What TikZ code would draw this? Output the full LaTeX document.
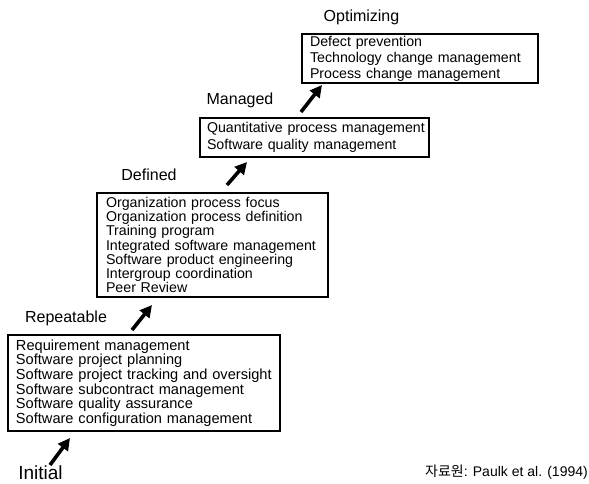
\documentclass[tikz,border=0pt]{standalone}
\usepackage{fontspec}
\setmainfont{Liberation Sans}
\newfontfamily\krfont{Noto Sans CJK KR}
\usetikzlibrary{arrows.meta}
\begin{document}
\begin{tikzpicture}[x=1pt,y=-1pt,
  stagebox/.style={draw=black,line width=1.1pt,rectangle,align=left,inner xsep=8pt,inner ysep=0pt,
    font=\fontsize{14.2}{16}\selectfont},
  levellabel/.style={font=\fontsize{16}{18}\selectfont,inner sep=0pt},
  bigarrow/.style={line width=3.6pt,-{Triangle[length=12pt,width=12pt]}}]
\useasboundingbox[fill=white] (0,0) rectangle (589,484);

% boxes
\node[stagebox,text width=220pt,minimum height=49pt,font=\fontsize{14.2}{16}\selectfont] (opt) at (420,58.5)
  {Defect prevention\\Technology change management\\Process change management};
\node[stagebox,text width=215pt,inner xsep=7pt,minimum height=39pt,font=\fontsize{14.2}{17}\selectfont] (man) at (314.5,137.5)
  {\mbox{Quantitative process management}\\Software quality management};
\node[stagebox,text width=213pt,inner xsep=9pt,minimum height=104pt,font=\fontsize{14.2}{12.8}\selectfont] (def) at (212.5,245)
  {Organization process focus\\Organization process definition\\Training program\\Integrated software management\\Software product engineering\\Intergroup coordination\\Peer Review};
\node[stagebox,text width=256pt,minimum height=96pt,font=\fontsize{14.6}{14.6}\selectfont] (rep) at (144,383)
  {Requirement management\\Software project planning\\\mbox{Software project tracking and oversight}\\Software subcontract management\\Software quality assurance\\Software configuration management};

% level labels
\node[levellabel] (lopt) at (361.5,17) {Optimizing};
\node[levellabel] (lman) at (240,100) {Managed};
\node[levellabel] (ldef) at (149,175) {Defined};
\node[levellabel] (lrep) at (66,318) {Repeatable};
\node[levellabel,font=\fontsize{19}{21}\selectfont] (lini) at (40.5,473) {Initial};

% arrows
\coordinate (a1s) at (50,465); \coordinate (a1e) at (70,438);
\coordinate (a2s) at (132,330); \coordinate (a2e) at (152,305);
\coordinate (a3s) at (227,185); \coordinate (a3e) at (247,162);
\coordinate (a4s) at (301,112); \coordinate (a4e) at (322,85);
\draw[bigarrow] (a1s) -- (a1e);
\draw[bigarrow] (a2s) -- (a2e);
\draw[bigarrow] (a3s) -- (a3e);
\draw[bigarrow] (a4s) -- (a4e);

% source
\node[anchor=east,inner sep=0pt,font=\fontsize{14}{16}\selectfont] (src) at (588,472) {{\krfont 자료원}: Paulk et al. (1994)};
\end{tikzpicture}
\end{document}
